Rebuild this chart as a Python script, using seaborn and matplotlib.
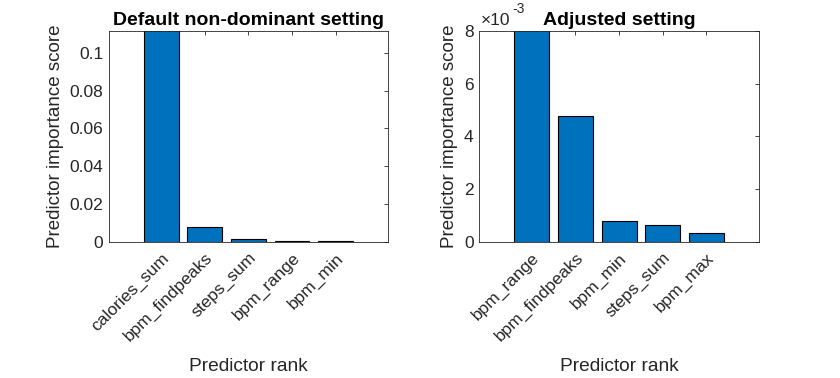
import numpy as np
import pandas as pd
import seaborn as sns
import matplotlib.pyplot as plt
from matplotlib.ticker import FixedLocator

# Data
default_names = ['calories_sum', 'bpm_findpeaks', 'steps_sum', 'bpm_range', 'bpm_min']
default_scores = [0.112, 0.0081, 0.0015, 0.0005, 0.0005]

adjusted_names = ['bpm_range', 'bpm_findpeaks', 'bpm_min', 'steps_sum', 'bpm_max']
adjusted_scores = [0.0081, 0.00479, 0.00078, 0.00063, 0.00033]

sns.set_style('white')
plt.rcParams['font.family'] = ['Liberation Sans', 'DejaVu Sans']

bar_color = '#0072BD'
axis_color = '#262626'

fig = plt.figure(figsize=(8.4, 3.78), dpi=100)
ax1 = fig.add_axes([0.1298, 0.360, 0.332, 0.558])
ax2 = fig.add_axes([0.5705, 0.360, 0.333, 0.558])


def draw(ax, names, scores, title, ylim, yticks, ylabels):
    df = pd.DataFrame({'name': names, 'score': scores})
    sns.barplot(data=df, x='name', y='score', ax=ax, color=bar_color,
                saturation=1, width=0.8, edgecolor='black', linewidth=0.8)
    ax.set_xlim(-1.2, len(names) + 0.2)
    ax.set_ylim(*ylim)
    ax.yaxis.set_major_locator(FixedLocator(yticks))
    ax.set_yticklabels(ylabels)
    ax.set_xticks(range(len(names)))
    ax.set_xticklabels(names, rotation=45, ha='right', rotation_mode='anchor')
    ax.tick_params(axis='both', direction='in', length=3, width=0.6,
                   colors=axis_color, labelsize=12.5, top=True, right=True,
                   labelcolor=axis_color, pad=4)
    ax.tick_params(axis='x', pad=6)
    for s in ax.spines.values():
        s.set_color(axis_color)
        s.set_linewidth(0.6)
        s.set_visible(True)
    ax.set_xlabel('Predictor rank', fontsize=13.8, color=axis_color, labelpad=10)
    ax.set_ylabel('Predictor importance score', fontsize=13.5, color=axis_color, labelpad=4)
    ax.set_title(title, fontsize=14, fontweight='bold', color='black', pad=4)


draw(ax1, default_names, default_scores, 'Default non-dominant setting',
     (0, 0.1115), [0, 0.02, 0.04, 0.06, 0.08, 0.1],
     ['0', '0.02', '0.04', '0.06', '0.08', '0.1'])
draw(ax2, adjusted_names, adjusted_scores, 'Adjusted setting',
     (0, 0.008), [0, 0.002, 0.004, 0.006, 0.008],
     ['0', '2', '4', '6', '8'])

# MATLAB-style exponent label
ax2.text(0.005, 1.015, '\u00d710', transform=ax2.transAxes, fontsize=12.5,
         color=axis_color, ha='left', va='bottom')
ax2.text(0.12, 1.07, '-3', transform=ax2.transAxes, fontsize=10,
         color=axis_color, ha='left', va='bottom')

fig.savefig('out.png', dpi=100, facecolor='white')
